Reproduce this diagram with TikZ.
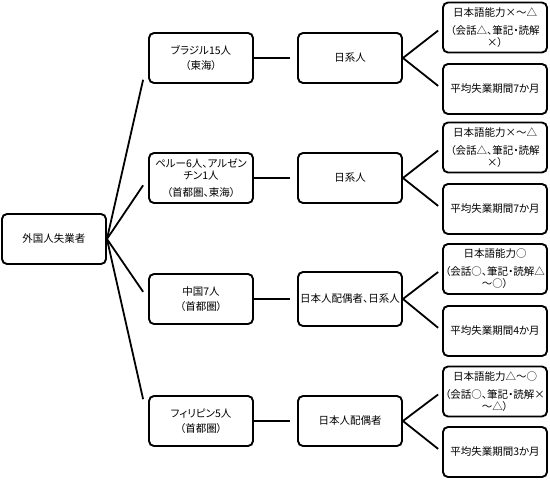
\documentclass[tikz,border=0pt]{standalone}
\usepackage{fontspec}
\setmainfont{Noto Sans CJK JP}[CharacterWidth=AlternateProportional]
\usepackage{tikz}
\usetikzlibrary{calc}

\begin{document}
\begin{tikzpicture}[x=1pt,y=-1pt,
    box/.style={draw,line width=1.9pt,rounded corners=5pt,minimum width=104pt,
                minimum height=50pt,align=center,inner sep=1pt,
                font=\fontsize{10.5}{12}\selectfont},
    conn/.style={line width=1.8pt}]
  \useasboundingbox (0,0) rectangle (550,480);
  % root
  \node[box] (root) at (54,239) {外国人失業者};
  % nationality
  \node[box] (nA) at (201,58)  {ブラジル15人\\[3pt]（東海）};
  \node[box] (nB) at (201,178) {ペルー6人、アルゼン\\チン1人\\[5pt]（首都圏、東海）};
  \node[box] (nC) at (201,299) {中国7人\\[3pt]（首都圏）};
  \node[box] (nD) at (201,421) {フィリピン5人\\[3pt]（首都圏）};
  % status
  \node[box] (gA) at (350,58)  {日系人};
  \node[box] (gB) at (350,178) {日系人};
  \node[box,minimum height=54pt] (gC) at (350,299) {日本人配偶者、日系人};
  \node[box] (gD) at (350,421) {日本人配偶者};
  % language and period
  \node[box] (jA) at (495,27.5) {日本語能力×～△\\[6pt]（会話△、筆記・読解\\×）};
  \node[box] (pA) at (495,89)   {平均失業期間7か月};
  \node[box] (jB) at (495,147.5){日本語能力×～△\\[6pt]（会話△、筆記・読解\\×）};
  \node[box] (pB) at (495,209)  {平均失業期間7か月};
  \node[box] (jC) at (495,269)  {日本語能力○\\[6pt]（会話○、筆記・読解△\\～○）};
  \node[box] (pC) at (495,331)  {平均失業期間4か月};
  \node[box] (jD) at (495,391.5){日本語能力△～○\\[6pt]（会話○、筆記・読解×\\～△）};
  \node[box] (pD) at (495,452)  {平均失業期間3か月};
  % connectors
  \foreach \n in {nA,nB,nC,nD}
    \draw[conn] (root.east) -- ($(root.east)!0.88!(\n.west)$);
  \foreach \a/\b in {nA/gA,nB/gB,nC/gC,nD/gD}
    \draw[conn] (\a.east) -- ($(\a.east)!0.84!(\b.west)$);
  \foreach \g/\j/\p in {gA/jA/pA,gB/jB/pB,gC/jC/pC,gD/jD/pD}{
    \draw[conn] (\g.east) -- ($(\g.east)!0.9!(\j.west)$);
    \draw[conn] (\g.east) -- ($(\g.east)!0.9!(\p.west)$);
  }
\end{tikzpicture}
\end{document}
